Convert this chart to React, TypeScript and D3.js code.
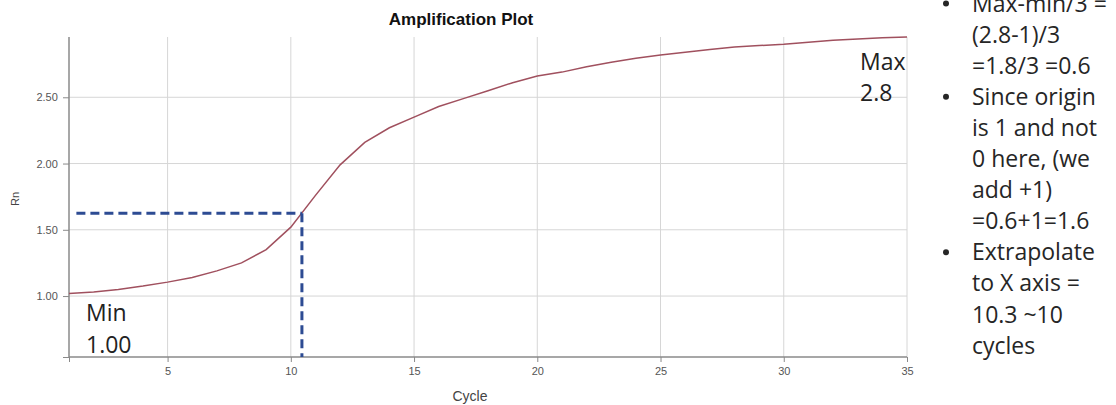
// Amplification plot with threshold annotation
import React, { useEffect, useRef } from 'react';
import * as d3 from 'd3';

const cycles = [
  1, 2, 3, 4, 5, 6, 7, 8, 9, 10, 11, 12, 13, 14, 15, 16, 17, 18,
  19, 20, 21, 22, 23, 24, 25, 26, 27, 28, 29, 30, 31, 32, 33, 34, 35
];
const rn = [
  1.02, 1.03, 1.05, 1.075, 1.105, 1.14, 1.19, 1.25, 1.35, 1.52, 1.76, 1.99,
  2.16, 2.27, 2.35, 2.43, 2.49, 2.55, 2.61, 2.66, 2.69, 2.73, 2.765, 2.795,
  2.82, 2.84, 2.86, 2.88, 2.89, 2.9, 2.915, 2.93, 2.94, 2.95, 2.955
];
const xTicks = [5, 10, 15, 20, 25, 30, 35];
const yTicks = [1.0, 1.5, 2.0, 2.5];

// threshold line and crossing cycle
const threshold = 1.625;
const thresholdStart = 1.3;
const ctCycle = 10.45;

const notes = [
  { bullet: true, text: 'Max-min/3 =' },
  { bullet: false, text: '(2.8-1)/3' },
  { bullet: false, text: '=1.8/3 =0.6' },
  { bullet: true, text: 'Since origin' },
  { bullet: false, text: 'is 1 and not' },
  { bullet: false, text: '0 here, (we' },
  { bullet: false, text: 'add +1)' },
  { bullet: false, text: '=0.6+1=1.6' },
  { bullet: true, text: 'Extrapolate' },
  { bullet: false, text: 'to X axis =' },
  { bullet: false, text: '10.3 ~10' },
  { bullet: false, text: 'cycles' }
];

const W = 1116;
const H = 405;

export default function App() {
  const svgRef = useRef<SVGSVGElement>(null);

  useEffect(() => {
    if (!svgRef.current) return;
    const svg = d3.select(svgRef.current);
    svg.selectAll('*').remove();

    const x = d3.scaleLinear().domain([1, 35]).range([69, 907]);
    const y = d3.scaleLinear().domain([0.54, 2.955]).range([357, 37]);
    const [yBottom, yTop] = y.range();
    const [xLeft, xRight] = x.range();

    const axisFont = 'Liberation Sans, Arial, sans-serif';
    const noteFont = 'Open Sans, Noto Sans, sans-serif';

    // grid
    const grid = svg.append('g').attr('stroke', '#d6d6d6').attr('stroke-width', 1);
    xTicks.forEach(t => {
      grid.append('line')
        .attr('x1', x(t)).attr('x2', x(t))
        .attr('y1', yTop).attr('y2', yBottom);
    });
    yTicks.forEach(t => {
      grid.append('line')
        .attr('x1', xLeft).attr('x2', xRight)
        .attr('y1', y(t)).attr('y2', y(t));
    });

    // axes
    const axisColor = '#8a8a8a';
    const xAxis = svg.append('g').attr('transform', `translate(0,${yBottom})`)
      .call(d3.axisBottom(x).tickValues([1, ...xTicks]).tickSize(5).tickFormat(d => (+d === 1 ? '' : String(d))));
    const yAxis = svg.append('g').attr('transform', `translate(${xLeft},0)`)
      .call(d3.axisLeft(y).tickValues([0.54, ...yTicks]).tickSize(6).tickFormat(d => (+d < 1 ? '' : d3.format('.2f')(+d))));
    [xAxis, yAxis].forEach(a => {
      a.select('.domain').attr('stroke', axisColor).attr('stroke-width', 1.5);
      a.selectAll('.tick line').attr('stroke', axisColor);
      a.selectAll('.tick text')
        .attr('fill', '#555')
        .attr('font-family', axisFont)
        .attr('font-size', 11);
    });
    xAxis.select('.domain').attr('d', `M${xLeft},0H${xRight}`);
    yAxis.select('.domain').attr('d', `M0,${yTop}V${yBottom}`);
    xAxis.selectAll('.tick text').attr('dy', '0.95em');
    yAxis.selectAll('.tick text').attr('dx', '-0.2em');

    // titles
    svg.append('text')
      .attr('x', 461).attr('y', 25)
      .attr('text-anchor', 'middle')
      .attr('font-family', axisFont)
      .attr('font-weight', 'bold')
      .attr('font-size', 17)
      .attr('fill', '#111')
      .text('Amplification Plot');
    svg.append('text')
      .attr('x', 470).attr('y', 401)
      .attr('text-anchor', 'middle')
      .attr('font-family', axisFont)
      .attr('font-size', 14)
      .attr('fill', '#444')
      .text('Cycle');
    svg.append('text')
      .attr('transform', 'translate(19,199) rotate(-90)')
      .attr('text-anchor', 'middle')
      .attr('font-family', axisFont)
      .attr('font-size', 11)
      .attr('fill', '#444')
      .text('Rn');

    // amplification curve
    const line = d3.line<number>()
      .x((_, i) => x(cycles[i]))
      .y(d => y(d));
    svg.append('path')
      .datum(rn)
      .attr('d', line)
      .attr('fill', 'none')
      .attr('stroke', '#a0505e')
      .attr('stroke-width', 1.5);

    // threshold dashed lines
    const dash = svg.append('g')
      .attr('stroke', '#2d4b93')
      .attr('stroke-width', 3)
      .attr('stroke-dasharray', '9 5');
    dash.append('line')
      .attr('x1', x(thresholdStart)).attr('x2', x(ctCycle))
      .attr('y1', y(threshold)).attr('y2', y(threshold));
    dash.append('line')
      .attr('x1', x(ctCycle)).attr('x2', x(ctCycle))
      .attr('y1', y(threshold)).attr('y2', yBottom);

    // min / max labels
    const label = (tx: number, ty: number, s: string) =>
      svg.append('text')
        .attr('x', tx).attr('y', ty)
        .attr('font-family', noteFont)
        .attr('font-size', 23)
        .attr('fill', '#222')
        .text(s);
    label(86, 321, 'Min');
    label(86, 353, '1.00');
    label(860, 70, 'Max');
    label(860, 101, '2.8');

    // notes on the right
    const notesG = svg.append('g')
      .attr('font-family', noteFont)
      .attr('font-size', 23)
      .attr('fill', '#262626');
    notes.forEach((n, i) => {
      const by = 11.5 + i * 31.1;
      if (n.bullet) {
        notesG.append('circle').attr('cx', 946).attr('cy', by - 8).attr('r', 3);
      }
      notesG.append('text').attr('x', 972).attr('y', by).text(n.text);
    });
  }, []);

  return (
    <svg
      ref={svgRef}
      width={W}
      height={H}
      style={{ position: 'absolute', left: 0, top: 0, background: '#fff' }}
    />
  );
}
